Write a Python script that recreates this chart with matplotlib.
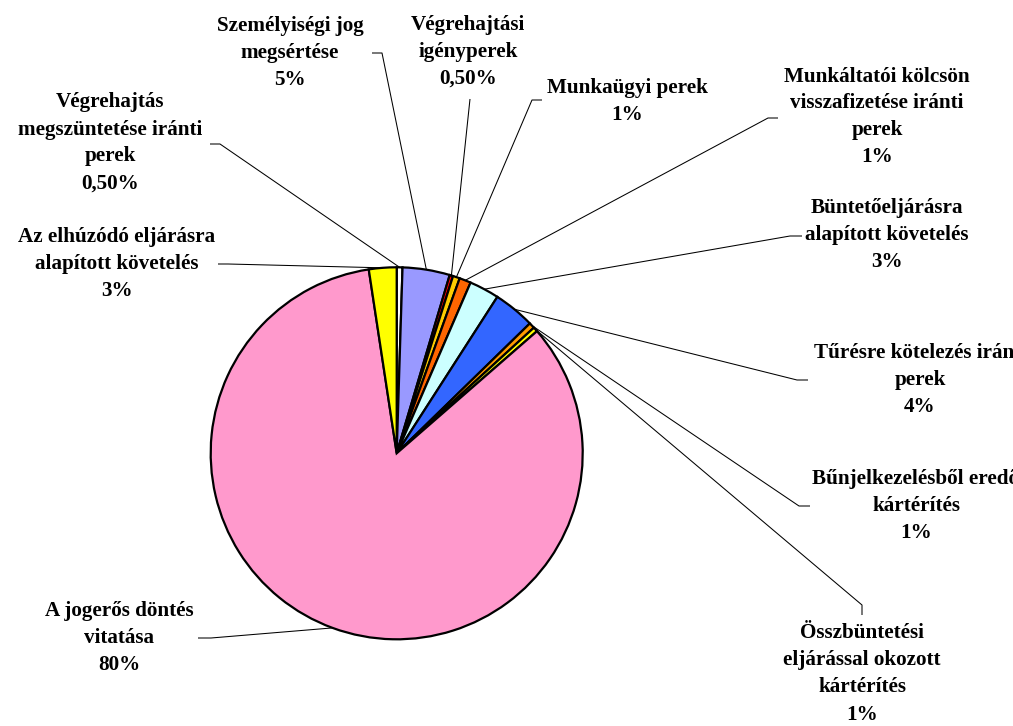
import matplotlib
matplotlib.use("Agg")
import matplotlib.pyplot as plt
import numpy as np

# ---- data (clockwise from 12 o'clock) ----
categories = [
    "Végrehajtás\nmegszüntetése iránti\nperek",
    "Személyiségi jog\nmegsértése",
    "Végrehajtási\nigényperek",
    "Munkaügyi perek",
    "Munkáltatói kölcsön\nvisszafizetése iránti\nperek",
    "Büntetőeljárásra\nalapított követelés",
    "Tűrésre kötelezés iránti\nperek",
    "Bűnjelkezelésből eredő\nkártérítés",
    "Összbüntetési\neljárással okozott\nkártérítés",
    "A jogerős döntés\nvitatása",
    "Az elhúzódó eljárásra\nalapított követelés",
]
values = [0.5, 4.1, 0.3, 0.6, 1.0, 2.6, 3.6, 0.5, 0.4, 84.0, 2.4]
pct_labels = ["0,50%", "5%", "0,50%", "1%", "1%", "3%", "4%", "1%", "1%", "80%", "3%"]
colors = ["#FFFFFF", "#9999FF", "#FF0000", "#FFCC00", "#FF6600", "#CCFFFF",
          "#3366FF", "#FF9900", "#FFFF00", "#FF99CC", "#FFFF00"]

W, H = 1013, 726
fig = plt.figure(figsize=(W / 100, H / 100), dpi=100)
ax = fig.add_axes([0, 0, 1, 1])
ax.set_xlim(0, W)
ax.set_ylim(0, H)
ax.set_aspect("equal")
ax.axis("off")

cx, cy_img, R = 396.7, 453.3, 186
cy = H - cy_img

wedges, _ = ax.pie(values, colors=colors, startangle=90, counterclock=False,
                   center=(cx, cy), radius=R,
                   wedgeprops=dict(edgecolor="black", linewidth=1.6))
ax.set_xlim(0, W)
ax.set_ylim(0, H)

# ---- label layout (image pixel coordinates) ----
label_pos = [(110, 143), (290, 53), (468, 52), (627, 101), (877, 117),
             (887, 235), (920, 380), (916, 506), (862, 674), (119, 638), (117, 264)]
elbows = [(220, 144), (382, 53), (470, 99), (532, 100), (768, 118),
          (790, 236), (797, 380), (799, 506), (862, 605), (211, 638), (228, 264)]
stub_ends = [(210, 144), (372, 53), (470, 99), (542, 100), (778, 118),
             (802, 236), (808, 380), (810, 506), (862, 615), (198, 638), (218, 264)]

line_gap = 27
font = dict(family=["Liberation Serif", "DejaVu Serif"], fontweight="bold",
            fontsize=15.2, color="black")

for w, cat, pct, (lx, ly), (ex, ey), (sx, sy) in zip(
        wedges, categories, pct_labels, label_pos, elbows, stub_ends):
    mid = np.deg2rad((w.theta1 + w.theta2) / 2)
    px, py = cx + R * np.cos(mid), cy + R * np.sin(mid)
    ax.plot([px, ex, sx], [py, H - ey, H - sy], color="black", lw=0.75,
            solid_capstyle="butt", zorder=0.5)
    lines = cat.split("\n") + [pct]
    n = len(lines)
    for i, t in enumerate(lines):
        yy = ly + (i - (n - 1) / 2) * line_gap
        ax.text(lx, H - yy, t, ha="center", va="center", **font)

fig.savefig("out.png", dpi=100)
